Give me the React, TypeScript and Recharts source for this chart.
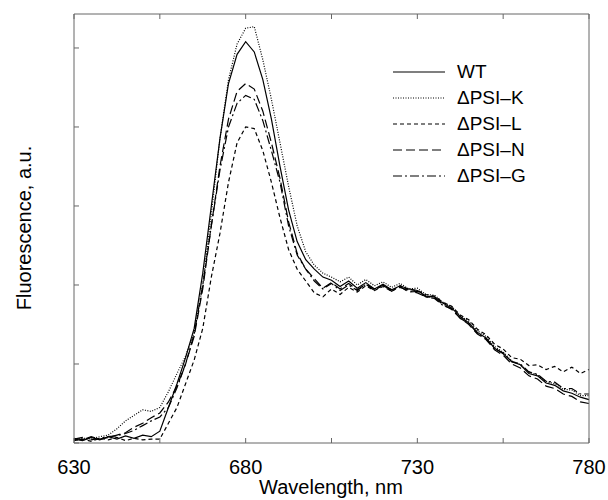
import { Legend, Line, LineChart, XAxis, YAxis } from 'recharts'

// wavelength grid, nm
const wavelengths = [
    630, 632.5, 635, 637.5, 640, 642.5, 645, 647.5, 650, 652.5,
    655, 657.5, 660, 662.5, 665, 667.5, 670, 672.5, 675, 677.5,
    680, 682.5, 685, 687.5, 690, 692.5, 695, 697.5, 700, 702.5,
    705, 707.5, 710, 712.5, 715, 717.5, 720, 722.5, 725, 727.5,
    730, 732.5, 735, 737.5, 740, 742.5, 745, 747.5, 750, 752.5,
    755, 757.5, 760, 762.5, 765, 767.5, 770, 772.5, 775, 777.5,
    780,
]

const wt = [
    0.05, 0.03, 0.07, 0.04, 0.08, 0.05, 0.09, 0.06, 0.10, 0.08,
    0.15, 0.45, 0.75, 1.08, 1.45, 2.15, 3.0, 3.85, 4.55, 4.92,
    5.08, 4.95, 4.6, 4.1, 3.5, 2.95, 2.55, 2.32, 2.2, 2.1,
    2.06, 1.98, 2.05, 1.96, 2.03, 1.95, 2.01, 1.94, 1.99, 1.95,
    1.93, 1.86, 1.85, 1.77, 1.71, 1.6, 1.52, 1.4, 1.33, 1.2,
    1.13, 1.03, 0.99, 0.88, 0.85, 0.76, 0.73, 0.66, 0.63, 0.58,
    0.55,
]

const psiK = [
    0.04, 0.06, 0.05, 0.08, 0.10, 0.18, 0.28, 0.35, 0.42, 0.40,
    0.45, 0.65, 0.88, 1.1, 1.4, 2.0, 2.9, 3.85, 4.6, 5.05,
    5.25, 5.27, 4.85, 4.35, 3.8, 3.25, 2.75, 2.42, 2.25, 2.15,
    2.1, 2.04, 2.1, 2.0, 2.07, 1.99, 2.04, 1.97, 2.02, 1.95,
    1.96, 1.88, 1.87, 1.78, 1.73, 1.61, 1.54, 1.42, 1.35, 1.22,
    1.15, 1.04, 0.99, 0.9, 0.86, 0.78, 0.75, 0.68, 0.67, 0.6,
    0.6,
]

const psiL = [
    0.03, 0.05, 0.02, 0.06, 0.04, 0.07, 0.03, 0.06, 0.04, 0.05,
    0.05, 0.25, 0.45, 0.75, 1.05, 1.45, 2.1, 2.65, 3.3, 3.8,
    4.0, 3.98, 3.7, 3.3, 2.85, 2.45, 2.2, 2.05, 1.9, 1.85,
    1.95, 1.88, 1.97, 1.91, 1.99, 1.93, 1.98, 1.92, 1.99, 1.94,
    1.93, 1.88, 1.86, 1.78, 1.73, 1.62, 1.56, 1.44, 1.37, 1.25,
    1.19, 1.08, 1.06, 0.98, 0.99, 0.93, 0.97, 0.9, 0.96, 0.88,
    0.93,
]

const psiN = [
    0.06, 0.04, 0.08, 0.05, 0.07, 0.10, 0.13, 0.20, 0.25, 0.32,
    0.38, 0.52, 0.72, 1.0, 1.35, 1.95, 2.75, 3.5, 4.1, 4.45,
    4.55, 4.48, 4.2, 3.8, 3.35, 2.8, 2.4, 2.2, 2.08, 1.96,
    2.03, 1.95, 2.02, 1.94, 2.01, 1.93, 2.0, 1.92, 1.98, 1.91,
    1.92, 1.85, 1.84, 1.75, 1.69, 1.58, 1.5, 1.38, 1.31, 1.18,
    1.11, 1.0, 0.95, 0.85, 0.81, 0.72, 0.69, 0.62, 0.59, 0.52,
    0.5,
]

const psiG = [
    0.05, 0.07, 0.04, 0.06, 0.08, 0.09, 0.12, 0.16, 0.22, 0.28,
    0.33, 0.45, 0.7, 1.0, 1.38, 2.0, 2.75, 3.45, 4.0, 4.3,
    4.4, 4.35, 4.08, 3.7, 3.3, 2.75, 2.38, 2.2, 2.05, 1.95,
    2.02, 1.93, 2.0, 1.93, 2.01, 1.95, 1.99, 1.94, 1.97, 1.93,
    1.9, 1.85, 1.83, 1.74, 1.7, 1.58, 1.51, 1.39, 1.32, 1.2,
    1.14, 1.03, 1.0, 0.9, 0.87, 0.78, 0.77, 0.69, 0.69, 0.62,
    0.62,
]

const xTicks = [630, 655, 680, 705, 730, 755, 780]
const xLabelTicks = [630, 680, 730, 780]
const yTicks = [0, 1, 2, 3, 4, 5]

const series = [
    { key: 'wt', name: 'WT', dash: undefined },
    { key: 'k', name: '\u0394PSI\u2013K', dash: '1 1.5' },
    { key: 'l', name: '\u0394PSI\u2013L', dash: '4 3' },
    { key: 'n', name: '\u0394PSI\u2013N', dash: '9 4' },
    { key: 'g', name: '\u0394PSI\u2013G', dash: '9 3 2 3' },
]

const chartData = wavelengths.map((wl, i) => ({
    wl,
    wt: wt[i],
    k: psiK[i],
    l: psiL[i],
    n: psiN[i],
    g: psiG[i],
}))

const FONT = '"Liberation Sans", Arial, Helvetica, sans-serif'
const AXIS_COLOR = '#666'
const TICK_LEN = 5

// ticks point into the plot box, like the matlab figure
const BottomTick = ({ x, y, payload }: any) => (
    <g>
        <line x1={x} x2={x} y1={y} y2={y - TICK_LEN} stroke={AXIS_COLOR} />
        {xLabelTicks.includes(payload.value) && (
            <text x={x} y={y + 31} textAnchor="middle" fontSize={20} fontFamily={FONT} fill="#000">
                {payload.value}
            </text>
        )}
    </g>
)

const TopTick = ({ x, y }: any) => (
    <line x1={x} x2={x} y1={y} y2={y + TICK_LEN} stroke={AXIS_COLOR} />
)

const LeftTick = ({ x, y }: any) => (
    <line x1={x} x2={x + TICK_LEN} y1={y} y2={y} stroke={AXIS_COLOR} />
)

const RightTick = ({ x, y }: any) => (
    <line x1={x} x2={x - TICK_LEN} y1={y} y2={y} stroke={AXIS_COLOR} />
)

const LegendBox = () => (
    <div style={{ fontFamily: FONT, fontSize: 19, color: '#000' }}>
        {series.map(s => (
            <div key={s.key} style={{ display: 'flex', alignItems: 'center', height: 26 }}>
                <svg width={56} height={10} style={{ marginRight: 10 }}>
                    <line x1={2} x2={54} y1={5} y2={5} stroke="#000" strokeWidth={1.2} strokeDasharray={s.dash} />
                </svg>
                <span>{s.name}</span>
            </div>
        ))}
    </div>
)

export default function App() {
    return (
        <div style={{ position: 'absolute', left: 0, top: 0, background: '#fff' }}>
            <LineChart width={608} height={500} data={chartData} margin={{ top: 0, right: 0, left: 0, bottom: 0 }}>
                <XAxis
                    dataKey="wl"
                    type="number"
                    domain={[630, 780]}
                    ticks={xTicks}
                    height={57}
                    stroke={AXIS_COLOR}
                    tickLine={false}
                    tickSize={0}
                    tickMargin={0}
                    tick={<BottomTick />}
                    interval={0}
                    label={{
                        content: () => (
                            <text x={331} y={494} textAnchor="middle" fontSize={20} fontFamily={FONT} fill="#000">
                                Wavelength, nm
                            </text>
                        ),
                    }}
                />
                <XAxis
                    xAxisId="top"
                    orientation="top"
                    dataKey="wl"
                    type="number"
                    domain={[630, 780]}
                    ticks={xTicks}
                    height={14}
                    stroke={AXIS_COLOR}
                    tickLine={false}
                    tickSize={0}
                    tickMargin={0}
                    tick={<TopTick />}
                    interval={0}
                />
                <YAxis
                    domain={[0, 5.43]}
                    ticks={yTicks}
                    width={74}
                    stroke={AXIS_COLOR}
                    tickLine={false}
                    tickSize={0}
                    tickMargin={0}
                    tick={<LeftTick />}
                    interval={0}
                    allowDataOverflow
                    label={{
                        content: () => (
                            <text x={31} y={228} transform="rotate(-90 31 228)" textAnchor="middle" fontSize={20} fontFamily={FONT} fill="#000">
                                Fluorescence, a.u.
                            </text>
                        ),
                    }}
                />
                <YAxis
                    yAxisId="right"
                    orientation="right"
                    domain={[0, 5.43]}
                    ticks={yTicks}
                    width={19}
                    stroke={AXIS_COLOR}
                    tickLine={false}
                    tickSize={0}
                    tickMargin={0}
                    tick={<RightTick />}
                    interval={0}
                />
                <Legend
                    layout="vertical"
                    align="center"
                    verticalAlign="middle"
                    content={<LegendBox />}
                    wrapperStyle={{ left: 391, top: 59, width: 200, height: 130 }}
                />
                {series.map(s => (
                    <Line
                        key={s.key}
                        type="linear"
                        dataKey={s.key}
                        name={s.name}
                        stroke="#000"
                        strokeWidth={1.2}
                        strokeDasharray={s.dash}
                        dot={false}
                        isAnimationActive={false}
                    />
                ))}
            </LineChart>
        </div>
    )
}
